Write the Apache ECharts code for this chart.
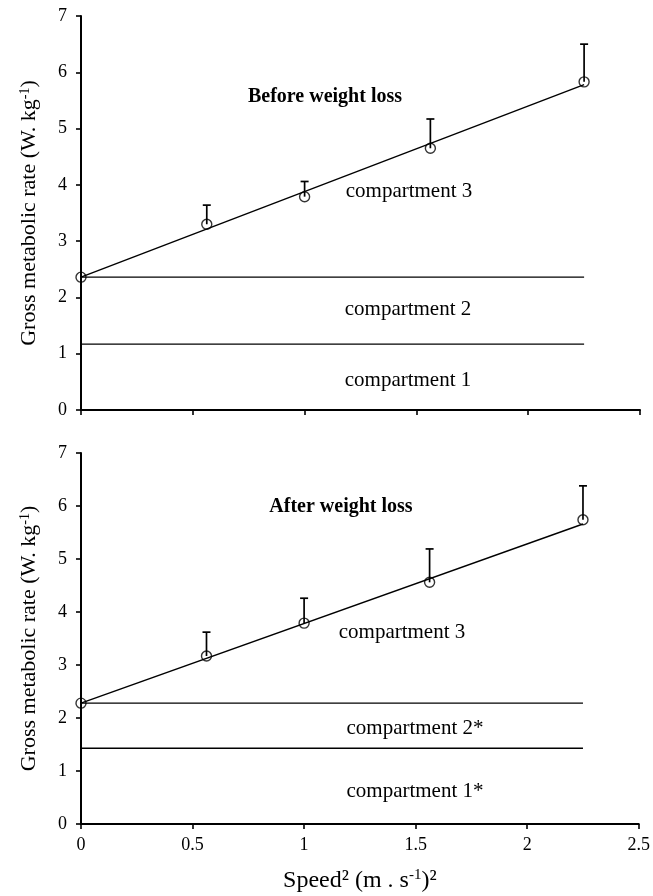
<!DOCTYPE html>
<html>
<head>
<meta charset="utf-8">
<script src="https://cdn.jsdelivr.net/npm/echarts@6/dist/echarts.min.js"></script>
<style>html,body{margin:0;padding:0;background:#fff}#c{width:653px;height:896px}</style>
</head>
<body>
<div id="c"></div>
<script>
// ---- data ----
var speedSq = [0, 0.5625, 1, 1.5625, 2.25];
var beforeMean = [2.36, 3.30, 3.79, 4.65, 5.83];
var beforeUpper = [2.36, 3.64, 4.06, 5.17, 6.50];
var afterMean = [2.28, 3.17, 3.79, 4.56, 5.74];
var afterUpper = [2.28, 3.62, 4.26, 5.19, 6.38];
var beforeFitX = [0, 2.25];
var beforeFitY = [2.36, 5.78];
var afterFitX = [0, 2.25];
var afterFitY = [2.28, 5.66];
var beforeBounds = [2.36, 1.17];
var afterBounds = [2.28, 1.43];
var boundX = [0, 2.25];
var xTicks = [0, 0.5, 1, 1.5, 2, 2.5];
var yTicks = [0, 1, 2, 3, 4, 5, 6, 7];

var FONT = '"Liberation Serif", "Times New Roman", serif';

function pairs(xs, ys) { return xs.map(function (x, i) { return [x, ys[i]]; }); }

function errSeries(idx, mean, upper) {
  return {
    type: 'custom', xAxisIndex: idx, yAxisIndex: idx, z: 2,
    data: speedSq.map(function (x, i) { return [x, mean[i], upper[i]]; }),
    renderItem: function (params, api) {
      var p0 = api.coord([api.value(0), api.value(1)]);
      var p1 = api.coord([api.value(0), api.value(2)]);
      if (Math.abs(p0[1] - p1[1]) < 1) return null;
      return {
        type: 'group', children: [
          { type: 'line', shape: { x1: p0[0], y1: p0[1], x2: p1[0], y2: p1[1] }, style: { stroke: '#000', lineWidth: 1.7 } },
          { type: 'line', shape: { x1: p1[0] - 4, y1: p1[1], x2: p1[0] + 4, y2: p1[1] }, style: { stroke: '#000', lineWidth: 1.7 } }
        ]
      };
    }
  };
}
function lineS(idx, data, z) {
  return { type: 'line', xAxisIndex: idx, yAxisIndex: idx, data: data, symbol: 'none', z: z || 1,
    lineStyle: { color: '#000', width: 1.4 }, silent: true, animation: false };
}
function pointS(idx, mean) {
  return { type: 'scatter', xAxisIndex: idx, yAxisIndex: idx, data: pairs(speedSq, mean), z: 5,
    symbol: 'circle', symbolSize: 10,
    itemStyle: { color: 'rgba(255,255,255,0)', borderColor: '#000', borderWidth: 1.4 } };
}

var axisLine = { show: true, lineStyle: { color: '#000', width: 2 } };
var axisTick = { show: true, length: 5, lineStyle: { color: '#000', width: 1.6 } };
var yName = {
  name: '{a|Gross metabolic rate (W. kg}{s|-1}{a|)}',
  nameLocation: 'middle', nameGap: 40,
  nameTextStyle: { rich: {
    a: { fontFamily: FONT, fontSize: 22, color: '#000' },
    s: { fontFamily: FONT, fontSize: 14, color: '#000', verticalAlign: 'top', padding: [0, 0, 9, 0] }
  } }
};

function yAxis(gi) {
  return Object.assign({
    type: 'value', gridIndex: gi, min: 0, max: 7, interval: 1,
    axisLine: axisLine, axisTick: axisTick, splitLine: { show: false },
    axisLabel: { color: '#000', fontFamily: FONT, fontSize: 18, margin: 14 }
  }, yName);
}
function xAxis(gi, labels) {
  var ax = {
    type: 'value', gridIndex: gi, min: 0, max: 2.5, interval: 0.5,
    axisLine: axisLine, axisTick: axisTick, splitLine: { show: false },
    axisLabel: { show: labels, color: '#000', fontFamily: FONT, fontSize: 18, margin: 12 }
  };
  if (labels) {
    ax.name = '{a|Speed² (m . s}{s|-1}{a|)²}';
    ax.nameLocation = 'middle';
    ax.nameGap = 44;
    ax.nameTextStyle = { rich: {
      a: { fontFamily: FONT, fontSize: 24, color: '#000' },
      s: { fontFamily: FONT, fontSize: 15, color: '#000', verticalAlign: 'top', padding: [0, 0, 10, 0] }
    } };
  }
  return ax;
}

function txt(x, y, t, bold, size) {
  return { type: 'text', x: x, y: y, style: { text: t, fill: '#000', font: (bold ? 'bold ' : '') + (size || 21) + 'px ' + FONT, textAlign: 'center', textVerticalAlign: 'middle' }, z: 10 };
}

var chart = echarts.init(document.getElementById('c'));
chart.setOption({
  animation: false,
  backgroundColor: '#fff',
  grid: [
    { left: 81, top: 16, width: 559, height: 394 },
    { left: 81, top: 453, width: 559, height: 371 }
  ],
  xAxis: [xAxis(0, false), xAxis(1, true)],
  yAxis: [yAxis(0), yAxis(1)],
  series: [
    lineS(0, pairs(beforeFitX, beforeFitY), 3),
    lineS(0, pairs(boundX, [beforeBounds[0], beforeBounds[0]])),
    lineS(0, pairs(boundX, [beforeBounds[1], beforeBounds[1]])),
    errSeries(0, beforeMean, beforeUpper),
    pointS(0, beforeMean),
    lineS(1, pairs(afterFitX, afterFitY), 3),
    lineS(1, pairs(boundX, [afterBounds[0], afterBounds[0]])),
    lineS(1, pairs(boundX, [afterBounds[1], afterBounds[1]])),
    errSeries(1, afterMean, afterUpper),
    pointS(1, afterMean)
  ],
  graphic: [
    txt(325, 97, 'Before weight loss', true, 20),
    txt(409, 191, 'compartment 3'),
    txt(408, 309, 'compartment 2'),
    txt(408, 380, 'compartment 1'),
    txt(341, 507, 'After weight loss', true, 20),
    txt(402, 632, 'compartment 3'),
    txt(415, 728, 'compartment 2*'),
    txt(415, 791, 'compartment 1*')
  ]
});
</script>
</body>
</html>
